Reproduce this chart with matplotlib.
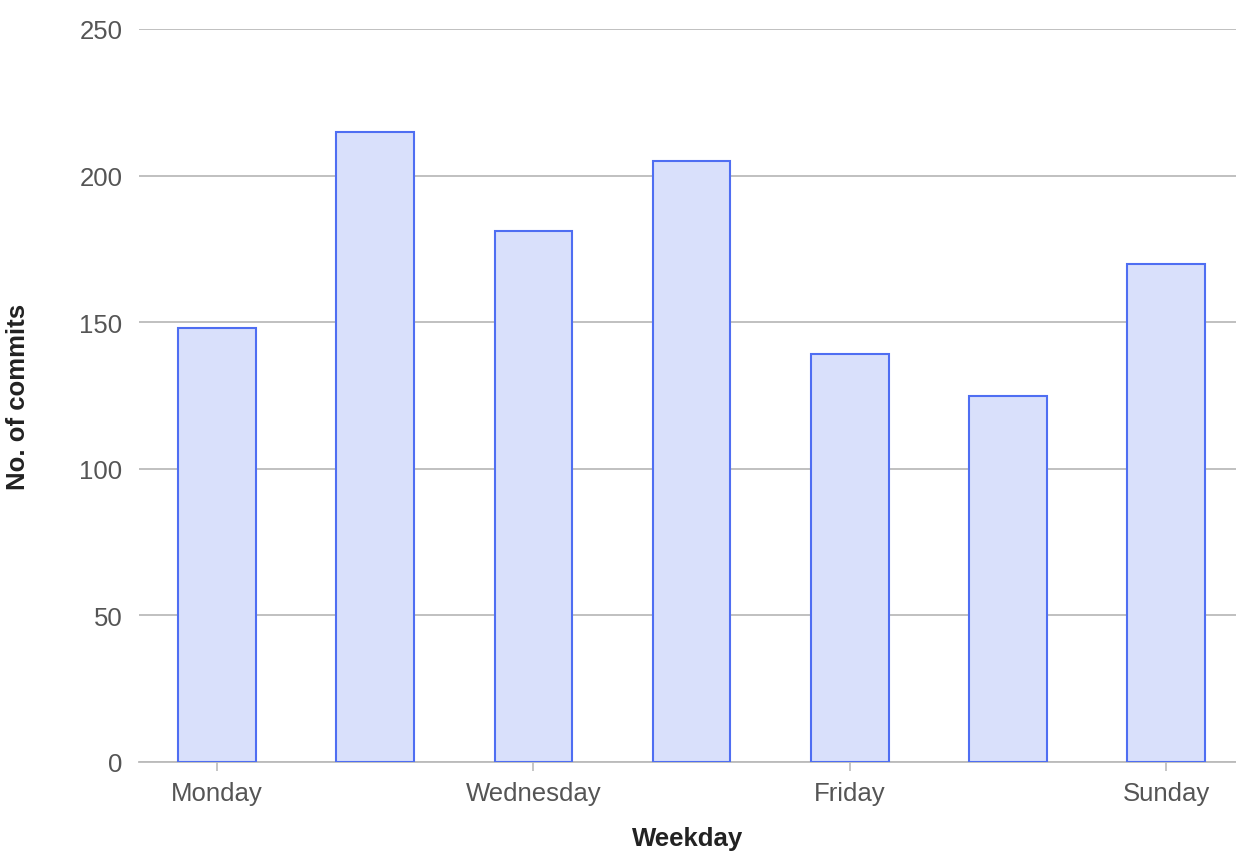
import matplotlib
matplotlib.use("Agg")
import matplotlib.pyplot as plt

days = ["Monday", "Tuesday", "Wednesday", "Thursday", "Friday", "Saturday", "Sunday"]
commits = [148, 215, 181, 205, 139, 125, 170]
yticks = [0, 50, 100, 150, 200, 250]
shown_idx = [0, 2, 4, 6]

plt.rcParams['font.family'] = ['Liberation Sans', 'DejaVu Sans']

fig = plt.figure(figsize=(12.36, 8.62), dpi=100)
ax = fig.add_axes([139/1236, 1-763/862, 1-139/1236, (763-30)/862])

x = list(range(len(days)))
ax.bar(x, commits, width=0.49, color='#d9e0fb', edgecolor='#4f6ef2', linewidth=1.5, zorder=3)

ax.set_xlim(-0.493, 6.441)
ax.set_ylim(0, 250)
ax.set_yticks(yticks)
ax.set_yticklabels([str(v) for v in yticks])
ax.tick_params(axis='y', length=0, pad=12, labelsize=18.5, labelcolor='#555555')
ax.set_xticks([x[i] for i in shown_idx])
ax.set_xticklabels([days[i] for i in shown_idx])
ax.tick_params(axis='x', length=6.5, width=1.2, color='#bbbbbb', pad=7.5, labelsize=18.5, labelcolor='#555555')

ax.grid(axis='y', color='#bbbbbb', linewidth=1.3, zorder=0)
for s in ['top', 'right', 'left']:
    ax.spines[s].set_visible(False)
ax.spines['bottom'].set_color('#bbbbbb')
ax.spines['bottom'].set_linewidth(1.3)

ax.set_xlabel('Weekday', fontsize=18.5, fontweight='bold', color='#222222')
ax.set_ylabel('No. of commits', fontsize=18.5, fontweight='bold', color='#222222')
ax.yaxis.set_label_coords(-(139 - 18) / 1097, 0.5)
ax.xaxis.set_label_coords(0.5, -(839 - 763) / 733)
ax.yaxis.label.set_va('center')
ax.xaxis.label.set_va('center')

fig.savefig('out.png', dpi=100)
